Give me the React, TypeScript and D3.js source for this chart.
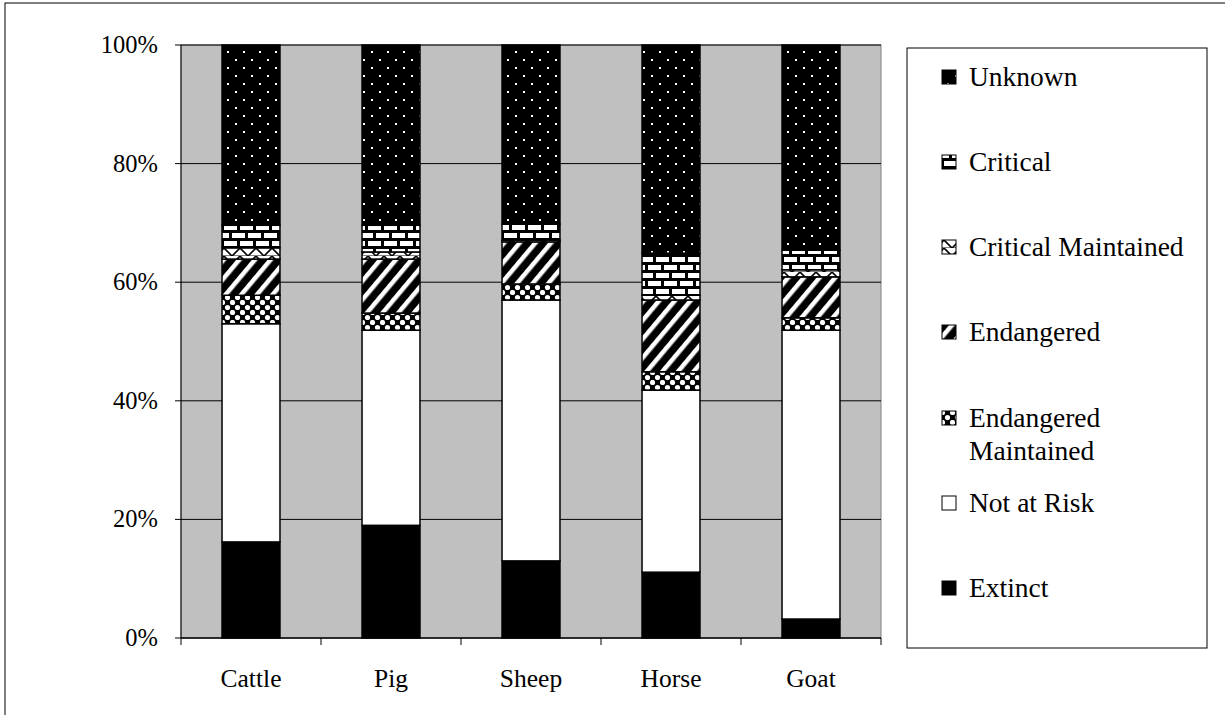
import * as d3 from "d3";

const animals = ["Cattle", "Pig", "Sheep", "Horse", "Goat"];
const statuses = [
  "Extinct",
  "Not at Risk",
  "Endangered Maintained",
  "Endangered",
  "Critical Maintained",
  "Critical",
  "Unknown",
];

// percent per status, one value per animal (same order as animals)
const extinct = [16.2, 19.0, 13.0, 11.1, 3.2];
const notAtRisk = [36.8, 32.9, 44.0, 30.7, 48.7];
const endangeredMaintained = [4.8, 2.9, 2.7, 3.1, 2.1];
const endangered = [6.1, 9.1, 7.1, 12.1, 6.9];
const criticalMaintained = [1.9, 1.2, 0.3, 0.8, 1.2];
const critical = [3.8, 4.5, 2.7, 7.1, 3.3];
const unknown = [30.4, 30.4, 30.2, 35.1, 34.6];

const yTicks = [0, 20, 40, 60, 80, 100];

const seriesValues = [
  extinct,
  notAtRisk,
  endangeredMaintained,
  endangered,
  criticalMaintained,
  critical,
  unknown,
];

const fills: Record<string, string> = {
  Extinct: "#000",
  "Not at Risk": "#fff",
  "Endangered Maintained": "url(#pEndM)",
  Endangered: "url(#pEnd)",
  "Critical Maintained": "url(#pCritM)",
  Critical: "url(#pCrit)",
  Unknown: "url(#pUnk)",
};

const rows = animals.map((a, i) => {
  const r: Record<string, any> = { animal: a };
  statuses.forEach((s, j) => (r[s] = seriesValues[j][i]));
  return r;
});

const font = "'Liberation Serif', 'Times New Roman', serif";

export default function App() {
  const left = 181;
  const right = 881;
  const top = 45;
  const bottom = 638;

  const x = d3
    .scaleBand<string>()
    .domain(animals)
    .range([left, right])
    .paddingInner(0.586)
    .paddingOuter(0.293);
  const y = d3.scaleLinear().domain([0, 100]).range([bottom, top]);
  const step = (right - left) / animals.length;

  const stacked = d3.stack<Record<string, any>>().keys(statuses)(rows);

  const legendItems = [...statuses].reverse();
  const legendY = [77, 162, 247, 332, 418, 503, 588];

  return (
    <div style={{ position: "fixed", left: 0, top: 0 }}>
      <svg width={1225} height={715} style={{ display: "block", fontFamily: font }}>
        <defs>
          <pattern id="pUnk" width={16} height={16} patternUnits="userSpaceOnUse">
            <rect width={16} height={16} fill="#000" />
            <rect x={3} y={3} width={2} height={2} fill="#fff" />
            <rect x={11} y={11} width={2} height={2} fill="#fff" />
          </pattern>
          <pattern id="pCrit" width={16} height={16} patternUnits="userSpaceOnUse">
            <rect width={16} height={16} fill="#000" />
            <rect x={0} y={1} width={13} height={5} fill="#fff" />
            <rect x={8} y={9} width={13} height={5} fill="#fff" />
            <rect x={-8} y={9} width={13} height={5} fill="#fff" />
          </pattern>
          <pattern id="pCritM" width={16} height={8} patternUnits="userSpaceOnUse">
            <rect width={16} height={8} fill="#fff" />
            <path d="M0,0 L8,8 L16,0" fill="none" stroke="#000" strokeWidth={1.6} />
            <path d="M0,8 L16,8" fill="none" stroke="#000" strokeWidth={1} />
          </pattern>
          <pattern
            id="pEnd"
            width={12}
            height={12}
            patternUnits="userSpaceOnUse"
            patternTransform="rotate(40)"
          >
            <rect width={12} height={12} fill="#000" />
            <rect x={0} y={0} width={4.5} height={12} fill="#fff" />
          </pattern>
          <pattern id="pEndM" width={10} height={10} patternUnits="userSpaceOnUse">
            <rect width={10} height={10} fill="#000" />
            <circle cx={2.5} cy={2.5} r={2.6} fill="#fff" />
            <circle cx={7.5} cy={7.5} r={2.6} fill="#fff" />
          </pattern>
        </defs>

        {/* outer chart frame */}
        <rect x={5} y={3} width={1240} height={730} fill="#fff" stroke="#000" strokeWidth={1} />

        {/* plot area */}
        <rect x={left} y={top} width={right - left} height={bottom - top} fill="#c0c0c0" stroke="#808080" />
        {yTicks.map((t) => (
          <g key={t}>
            <line x1={left} x2={right} y1={y(t)} y2={y(t)} stroke="#000" strokeWidth={1} />
            <line x1={left - 6} x2={left} y1={y(t)} y2={y(t)} stroke="#000" />
            <text x={158} y={y(t) + 8} textAnchor="end" fontSize={24.5}>
              {t}%
            </text>
          </g>
        ))}
        <line x1={left} x2={left} y1={top} y2={bottom} stroke="#000" />
        <line x1={left} x2={right} y1={bottom} y2={bottom} stroke="#000" />
        {d3.range(animals.length + 1).map((i) => (
          <line
            key={i}
            x1={left + i * step}
            x2={left + i * step}
            y1={bottom}
            y2={bottom + 7}
            stroke="#000"
          />
        ))}

        {stacked.map((s) => (
          <g key={s.key}>
            {s.map((d, i) => {
              const h = y(d[0]) - y(d[1]);
              return (
                <rect
                  key={i}
                  x={x(animals[i])}
                  y={y(d[1])}
                  width={x.bandwidth()}
                  height={Math.max(h, 0)}
                  fill={fills[s.key]}
                  stroke="#000"
                  strokeWidth={1.5}
                />
              );
            })}
          </g>
        ))}

        {animals.map((a) => (
          <text
            key={a}
            x={(x(a) ?? 0) + x.bandwidth() / 2}
            y={687}
            textAnchor="middle"
            fontSize={25.5}
          >
            {a}
          </text>
        ))}

        {/* legend */}
        <rect x={907} y={48} width={300} height={600} fill="#fff" stroke="#000" />
        {legendItems.map((s, i) => {
          const cy = legendY[i];
          const lines = s === "Endangered Maintained" ? ["Endangered", "Maintained"] : [s];
          return (
            <g key={s}>
              <rect x={942} y={cy - 7} width={14} height={14} fill={fills[s]} stroke="#000" />
              {lines.map((l, k) => (
                <text key={k} x={969} y={cy + 9 + k * 33} fontSize={27.5}>
                  {l}
                </text>
              ))}
            </g>
          );
        })}
      </svg>
    </div>
  );
}
